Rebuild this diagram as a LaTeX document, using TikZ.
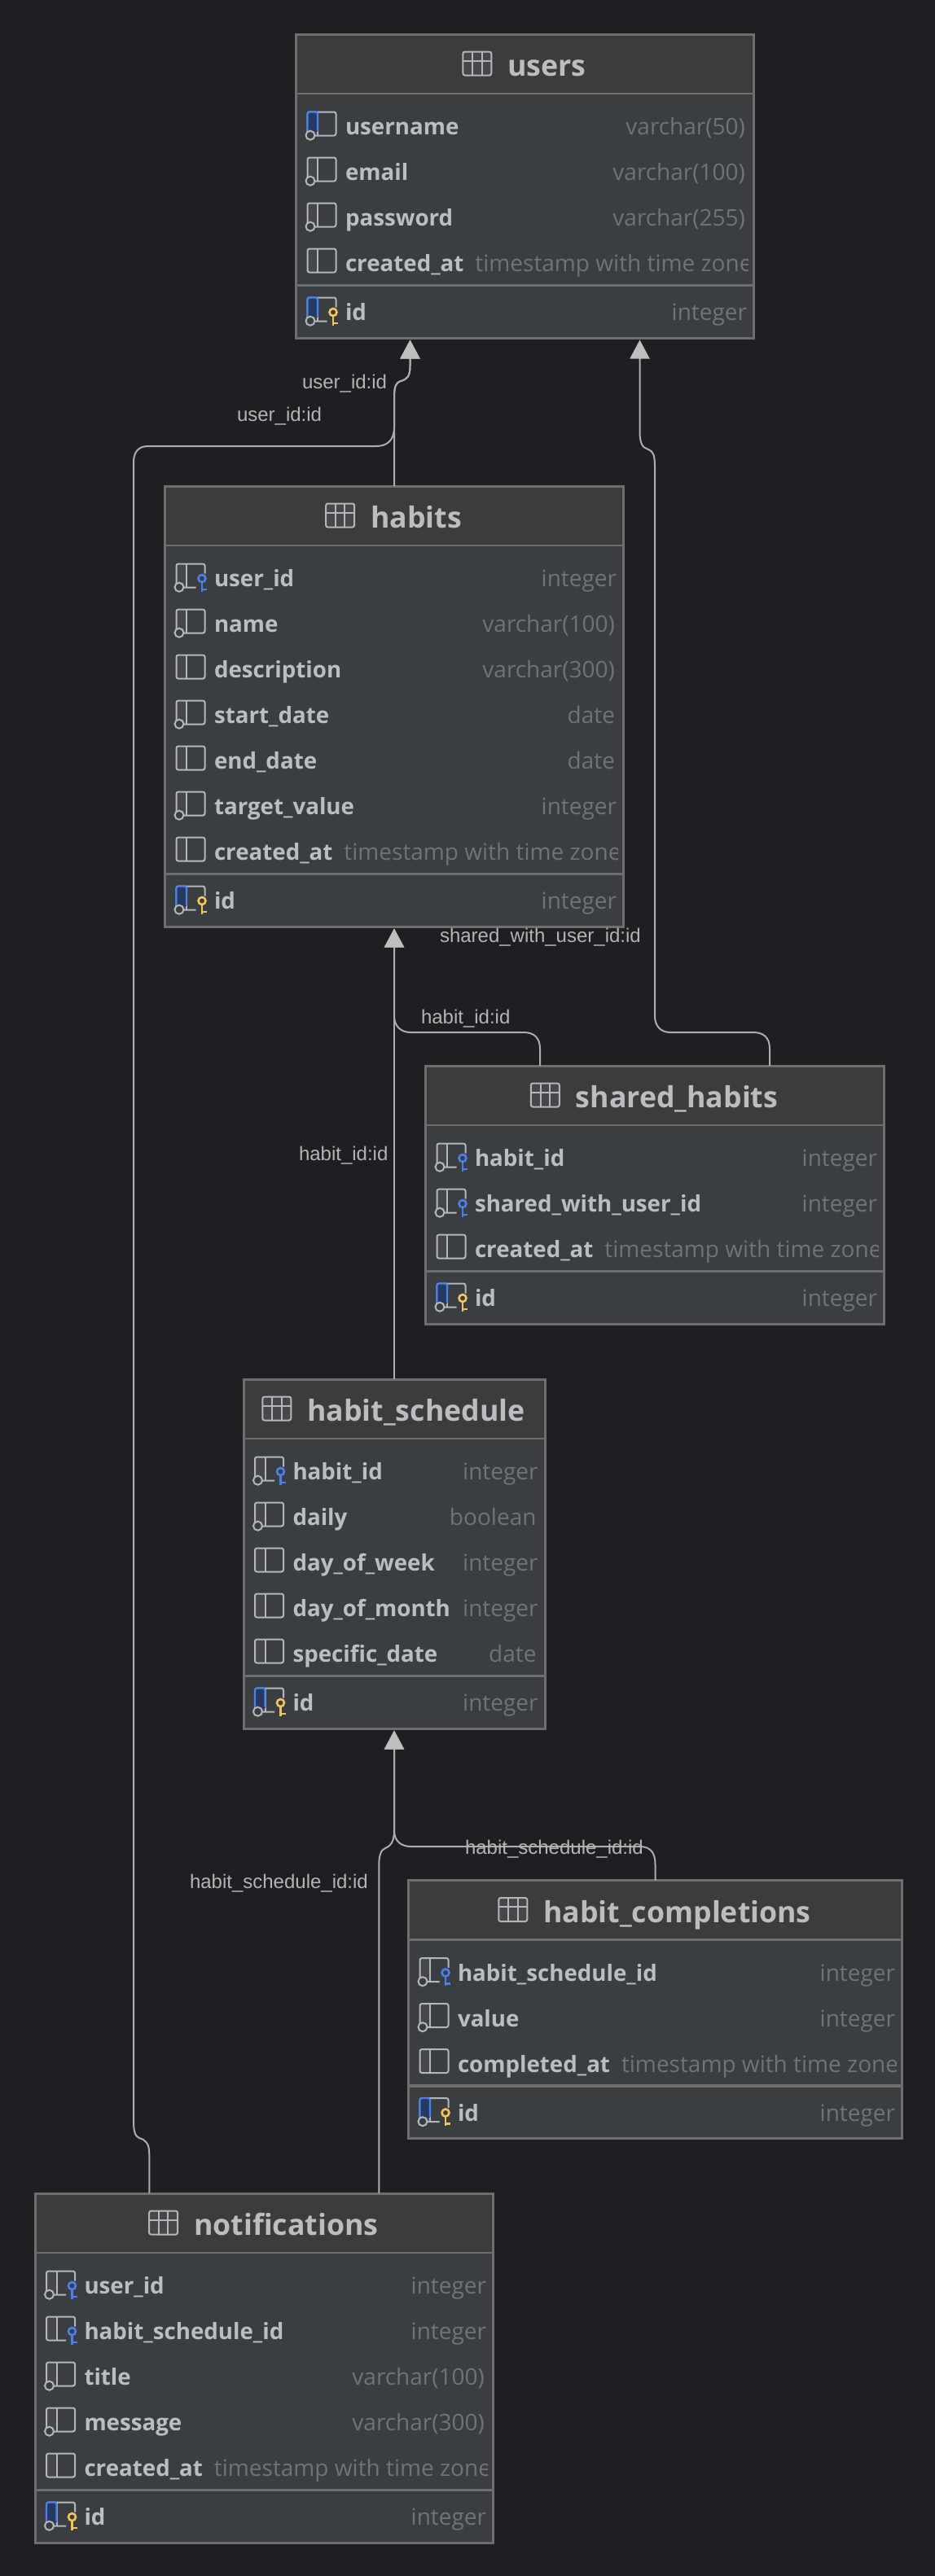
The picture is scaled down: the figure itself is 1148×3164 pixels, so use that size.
\documentclass[tikz,border=0pt]{standalone}
\usepackage{fontspec}
\setmainfont{Open Sans}
\newfontfamily\lblfont{Liberation Sans}
\usetikzlibrary{arrows.meta}
\definecolor{pagebg}{HTML}{1E1F22}
\definecolor{headbg}{HTML}{3D3C3C}
\definecolor{bodybg}{HTML}{3B3E41}
\definecolor{bordc}{HTML}{6E6E6E}
\definecolor{fieldc}{HTML}{BBBDC0}
\definecolor{typec}{HTML}{6F737A}
\definecolor{iconc}{HTML}{B4B6BA}
\definecolor{iconfill}{HTML}{45474C}
\definecolor{blueic}{HTML}{4A80F0}
\definecolor{bluefill}{HTML}{26395F}
\definecolor{goldic}{HTML}{F2C55C}
\definecolor{linec}{HTML}{ADADAD}
\definecolor{headc}{HTML}{BEBEBE}
\definecolor{lblc}{HTML}{B4B4B4}
\tikzset{
  tframe/.style={draw=bordc,line width=3pt,fill=bodybg,inner sep=0pt,outer sep=0pt,rectangle},
  ttitle/.style={inner sep=0pt,outer sep=0pt,text=fieldc,font=\fontsize{35.7}{40}\selectfont\bfseries,anchor=base},
  tfield/.style={inner sep=0pt,outer sep=0pt,text=fieldc,font=\fontsize{27.7}{30}\selectfont\bfseries,anchor=base west},
  ttype/.style={inner sep=0pt,outer sep=0pt,text=typec,font=\fontsize{28}{30}\selectfont},
  icoline/.style={draw=iconc,line width=2pt,rounded corners=2.5pt},
  fk/.style={-{Triangle[width=24pt,length=23pt,fill=headc,color=headc]},draw=linec,line width=2pt,shorten >=2.5pt},
  rel/.style={inner sep=0pt,outer sep=0pt,text=lblc,font=\fontsize{24}{28}\lblfont\selectfont,anchor=base west}
}
\newcommand\intg{integer\kern-2pt}
% icon kinds
\newcommand\bodyC{\draw[fill=bodybg,draw=iconc,line width=2pt] (3.5,0.7) circle (5.5);}
\newcommand\keyAt[1]{%
  \draw[#1,line width=2.6pt] (31.5,-10) circle (4.5);
  \draw[#1,line width=2.6pt] (31.5,-5.5) -- (31.5,6) (31.5,3.5) -- (37.5,3.5);}
\newcommand\leftCell{\fill[iconfill] (0,-28) rectangle (12.5,1);}
\newcommand\icoP{\leftCell\draw[icoline] (0,-28) rectangle (35,1); \draw[iconc,line width=2pt] (12.5,-28) -- (12.5,1);}
\newcommand\icoC{\icoP\bodyC}
\newcommand\keyOutline{\leftCell\draw[icoline] (24,1) -- (9,1) (35,-16) -- (35,-28) -- (0,-28) -- (0,1) -- (24,1); \draw[iconc,line width=2pt] (12.5,-28) -- (12.5,1);}
\newcommand\icoF{\keyOutline\keyAt{blueic}}
\newcommand\icoK{\keyOutline\bodyC\keyAt{blueic}}
\newcommand\blueLeft{\fill[bluefill] (0,-28) rectangle (12.5,-4);
  \draw[blueic,line width=2.2pt,rounded corners=2.5pt] (0,-5) -- (0,-28) -- (12.5,-28) -- (12.5,-5);}
\newcommand\icoU{\icoP\blueLeft\bodyC}
\newcommand\icoI{\keyOutline\blueLeft\bodyC\keyAt{goldic}}
% table frame: name,x1,x2,top,rows,title
\newcommand\tablebox[6]{%
  \def\tname{#1}\def\xl{#2}\def\xr{#3}\def\tp{#4}\def\nrows{#5}%
  \pgfmathsetmacro\xa{#2+1.5}\pgfmathsetmacro\ya{#4+1.5}%
  \pgfmathsetmacro\wa{#3-#2-3}\pgfmathsetmacro\ha{376+56*(#5-4)-3}%
  \pgfmathsetmacro\hl{#4+74.5}\pgfmathsetmacro\sepy{#4+310+56*(#5-4)}%
  \pgfmathsetmacro\cxa{(#2+#3)/2+27}\pgfmathsetmacro\tby{#4+53}%
  \pgfmathsetmacro\xb{#3-1.5}%
  \node[tframe,minimum width=\wa pt,minimum height=\ha pt,anchor=north west] (#1) at (\xa,\ya) {};
  \fill[headbg] (\xa,\ya) rectangle (\xb,\hl);
  \draw[bordc,line width=2.4pt] (\xa,\hl) -- (\xb,\hl);
  \draw[bordc,line width=3.6pt] (\xa,\sepy) -- (\xb,\sepy);
  \draw[bordc,line width=3pt] (\xa,\ya) rectangle (\xb,\ya+\ha);
  \node[ttitle] (#1-title) at (\cxa,\tby) {#6};
  \begin{scope}[shift={(#1-title.base west)}]
    \draw[icoline,fill=iconfill] (-55,-30) rectangle (-20,-1);
    \draw[iconc,line width=2pt] (-55,-19) -- (-20,-19) (-43.3,-30) -- (-43.3,-1) (-31.7,-30) -- (-31.7,-1);
  \end{scope}
}
% row: index, icon kind, field, type
\newcommand\rowf[4]{%
  \pgfmathsetmacro\rb{\tp+125+56*(#1-1)}%
  \pgfmathsetmacro\ix{\xl+15.5}\pgfmathsetmacro\fx{\xl+62}\pgfmathsetmacro\tx{\xr-12}%
  \begin{scope}[shift={(\ix,\rb)}]\csname ico#2\endcsname\end{scope}
  \node[tfield] (\tname-f#1) at (\fx,\rb) {#3};
  \node[ttype,anchor=base east] (\tname-t#1) at (\tx,\rb) {#4};
}
\newcommand\rowts[3]{%
  \pgfmathsetmacro\rb{\tp+125+56*(#1-1)}%
  \pgfmathsetmacro\ix{\xl+15.5}\pgfmathsetmacro\fx{\xl+62}\pgfmathsetmacro\tx{\xr-9}%
  \begin{scope}[shift={(\ix,\rb)}]\icoP\end{scope}
  \node[tfield] (\tname-f#1) at (\fx,\rb) {#2};
  \begin{scope}
    \clip (\xl,\rb-30) rectangle (\tx,\rb+14);
    \node[ttype,anchor=base west] (\tname-t#1) at ([xshift=14pt]\tname-f#1.base east) {#3};
  \end{scope}
}
\newcommand\rowid{%
  \pgfmathsetmacro\rb{\tp+353+56*(\nrows-4)}%
  \pgfmathsetmacro\ix{\xl+15.5}\pgfmathsetmacro\fx{\xl+62}\pgfmathsetmacro\tx{\xr-12}%
  \begin{scope}[shift={(\ix,\rb)}]\icoI\end{scope}
  \node[tfield] (\tname-id) at (\fx,\rb) {id};
  \node[ttype,anchor=base east] (\tname-idt) at (\tx,\rb) {\intg};
}
\begin{document}
\begin{tikzpicture}[x=1pt,y=-1pt]
\useasboundingbox[fill=pagebg] (0,0) rectangle (1148,3164);

\tablebox{users}{362}{927}{40.5}{4}{users}
\rowf{1}{U}{username}{varchar(50)}
\rowf{2}{C}{email}{varchar(100)}
\rowf{3}{C}{password}{varchar(255)}
\rowts{4}{created\_at}{timestamp with time zone}
\rowid

\tablebox{habits}{201}{767}{595.5}{7}{habits}
\rowf{1}{K}{user\_id}{\intg}
\rowf{2}{C}{name}{varchar(100)}
\rowf{3}{P}{description}{varchar(300)}
\rowf{4}{C}{start\_date}{date}
\rowf{5}{P}{end\_date}{date}
\rowf{6}{C}{target\_value}{\intg}
\rowts{7}{created\_at}{timestamp with time zone}
\rowid

\tablebox{shared}{521}{1087}{1307.5}{3}{shared\_habits}
\rowf{1}{K}{habit\_id}{\intg}
\rowf{2}{K}{shared\_with\_user\_id}{\intg}
\rowts{3}{created\_at}{timestamp with time zone}
\rowid

\tablebox{sched}{297.5}{670.5}{1692.5}{5}{habit\_schedule}
\rowf{1}{K}{habit\_id}{\intg}
\rowf{2}{C}{daily}{boolean}
\rowf{3}{P}{day\_of\_week}{\intg}
\rowf{4}{P}{day\_of\_month}{\intg}
\rowf{5}{P}{specific\_date}{date}
\rowid

\tablebox{compl}{500}{1109}{2308}{3}{habit\_completions}
\rowf{1}{K}{habit\_schedule\_id}{\intg}
\rowf{2}{C}{value}{\intg}
\rowts{3}{completed\_at}{timestamp with time zone}
\rowid

\tablebox{notif}{41.5}{607}{2692.5}{5}{notifications}
\rowf{1}{K}{user\_id}{\intg}
\rowf{2}{F}{habit\_schedule\_id}{\intg}
\rowf{3}{C}{title}{varchar(100)}
\rowf{4}{C}{message}{varchar(300)}
\rowts{5}{created\_at}{timestamp with time zone}
\rowid

% connectors
\draw[fk] (habits.north) -- (484,490) .. controls (484,474) and (486,470) .. (492,468) .. controls (500,466) and (503.5,462) .. (503.5,450) -- ([xshift=-141pt]users.south);
\draw[fk] ([xshift=-141pt]notif.north) -- (183.25,2645) .. controls (183.25,2632) and (178,2628) .. (171,2626) .. controls (166,2624) and (164,2618) .. (164,2605) -- (164,568) .. controls (164,555) and (170,548) .. (182,548) -- (462,548) .. controls (474,548) and (484,542) .. (484,525) -- (484,490) .. controls (484,474) and (486,470) .. (492,468) .. controls (500,466) and (503.5,462) .. (503.5,450) -- ([xshift=-141pt]users.south);
\draw[fk] ([xshift=141pt]shared.north) -- (945,1288) .. controls (945,1275) and (938,1268) .. (925,1268) -- (823,1268) .. controls (811,1268) and (804,1260) .. (804,1248) -- (804,572) .. controls (804,560) and (802,554) .. (796,552) .. controls (789,550) and (785.5,545) .. (785.5,530) -- ([xshift=141pt]users.south);
\draw[fk] ([xshift=-141pt]shared.north) -- (663,1288) .. controls (663,1275) and (656,1268) .. (643,1268) -- (504,1268) .. controls (492,1268) and (484,1260) .. (484,1248) -- (habits.south);
\draw[fk] (sched.north) -- (habits.south);
\draw[fk] (compl.north) -- (804.5,2290) .. controls (804.5,2277) and (800,2268) .. (785,2268) -- (505,2268) .. controls (493,2268) and (484,2262) .. (484,2248) -- (sched.south);
\draw[fk] ([xshift=141pt]notif.north) -- (465.25,2292) .. controls (465.25,2278) and (468,2272) .. (473,2270) .. controls (480,2267) and (484,2262) .. (484,2248) -- (sched.south);

% labels
\node[rel] (l1) at (371,477) {user\_id:id};
\node[rel] (l2) at (291,517) {user\_id:id};
\node[rel] (l3) at (540,1157) {shared\_with\_user\_id:id};
\node[rel] (l4) at (517,1257) {habit\_id:id};
\node[rel] (l5) at (367,1425) {habit\_id:id};
\node[rel] (l6) at (233,2319) {habit\_schedule\_id:id};
\node[rel] (l7) at (571,2277) {habit\_schedule\_id:id};
\end{tikzpicture}
\end{document}
